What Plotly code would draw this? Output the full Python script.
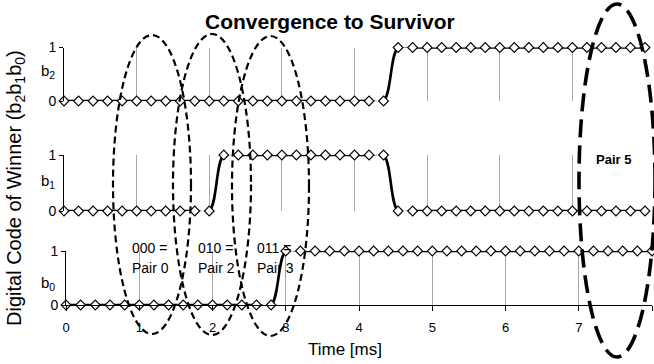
import plotly.graph_objects as go

W, H = 654, 364

# ---------------- data ----------------
time_ms = [0.0, 0.2, 0.4, 0.6, 0.8, 1.0, 1.2, 1.4, 1.6, 1.8,
           2.0, 2.2, 2.4, 2.6, 2.8, 3.0, 3.2, 3.4, 3.6, 3.8,
           4.0, 4.2, 4.4, 4.6, 4.8, 5.0, 5.2, 5.4, 5.6, 5.8,
           6.0, 6.2, 6.4, 6.6, 6.8, 7.0, 7.2, 7.4, 7.6, 7.8, 8.0]
b2 = [0]*23 + [1]*18
b1 = [0]*11 + [1]*12 + [0]*18
b0 = [0]*15 + [1]*26
bit_labels = ["b<sub>2</sub>", "b<sub>1</sub>", "b<sub>0</sub>"]
x_ticks = [0, 1, 2, 3, 4, 5, 6, 7, 8]
y_ticks = [0, 1]
pair_notes = [("000 =", "Pair 0"), ("010 =", "Pair 2"), ("011 =", "Pair 3")]
title_text = "Convergence to Survivor"
y_title = "Digital Code of Winner (b<sub>2</sub>b<sub>1</sub>b<sub>0</sub>)"
x_title = "Time [ms]"

FONT = "Arial, Liberation Sans, sans-serif"


def px(x):
    return x / W


def py(y):
    return 1 - y / H


# panel geometry in pixels (top, bottom of the 0..1 band) and x extents
panels = [
    dict(y1=47.5, y0=101, xl=64, xr=645),
    dict(y1=155, y0=211, xl=64, xr=645),
    dict(y1=251, y0=305, xl=66, xr=652),
]
series = [b2, b1, b0]

fig = go.Figure()
layout = dict(
    width=W, height=H, margin=dict(l=0, r=0, t=0, b=0, autoexpand=False),
    paper_bgcolor="white", plot_bgcolor="white", showlegend=False,
    font=dict(family=FONT, color="black"),
)

for i, (p, s) in enumerate(zip(panels, series)):
    n = "" if i == 0 else str(i + 1)
    fig.add_trace(go.Scatter(
        x=time_ms, y=s, xaxis="x" + n, yaxis="y" + n,
        mode="lines+markers", line=dict(color="black", width=2.6, shape="spline", smoothing=1.0),
        marker=dict(symbol="diamond", size=7.5, color="white", line=dict(color="black", width=1.1)),
        cliponaxis=False, hoverinfo="skip",
    ))
    bottom = (i == 2)
    layout["xaxis" + n] = dict(
        domain=[px(p["xl"]), px(p["xr"])], range=[0, 8], anchor="y" + n,
        tickvals=x_ticks, showgrid=True, gridcolor="#a6a6a6", gridwidth=1,
        zeroline=False, showline=bottom, linecolor="black", linewidth=1,
        ticks="outside" if bottom else "", ticklen=5, tickcolor="black",
        showticklabels=bottom, tickfont=dict(size=13, family=FONT, color="black"),
        ticklabelstandoff=5, automargin=False,
    )
    layout["yaxis" + n] = dict(
        domain=[py(p["y0"]), py(p["y1"])], range=[0, 1], anchor="x" + n,
        tickvals=y_ticks, showgrid=False, zeroline=False,
        showline=True, linecolor="black", linewidth=1,
        ticks="outside", ticklen=4, tickcolor="black",
        tickfont=dict(size=14, family=FONT, color="black"),
        automargin=False,
    )

fig.update_layout(**layout)


def note(text, x, y, size, xanchor="center", angle=0):
    return dict(text=text, x=px(x), y=py(y), xref="paper", yref="paper",
                xanchor=xanchor, yanchor="middle", textangle=angle, showarrow=False,
                font=dict(size=size, family=FONT, color="black"))


ann = []
ann.append(note("<b>" + title_text + "</b>", 330, 21, 21))
ann.append(note(x_title, 345, 349, 17))
ann.append(note(y_title, 15, 188, 20, angle=-90))
bit_y = [72, 181, 283]
for lab, yy in zip(bit_labels, bit_y):
    ann.append(note(lab, 48, yy, 15))
note_x = [130, 196, 255]
for (l1, l2), xx in zip(pair_notes, note_x):
    ann.append(note(l1, xx, 248, 14, xanchor="left"))
    ann.append(note(l2, xx, 268, 14, xanchor="left"))
ann.append(note("<b>Pair 5</b>", 594, 159, 13, xanchor="left"))
fig.update_layout(annotations=ann)

# dashed ellipses (pixel boxes: left, top, right, bottom)
small = [(113, 35, 191, 334), (173, 34, 251, 335), (232, 36, 309, 336)]
shapes = []
for (l, t, r, b) in small:
    shapes.append(dict(type="circle", xref="paper", yref="paper",
                       x0=px(l), x1=px(r), y0=py(b), y1=py(t),
                       line=dict(color="black", width=2.2, dash="7px,4px")))
shapes.append(dict(type="circle", xref="paper", yref="paper",
                   x0=px(579), x1=px(655), y0=py(357), y1=py(4),
                   line=dict(color="black", width=3.6, dash="18px,8px")))
fig.update_layout(shapes=shapes)

fig.write_html("out.html", config={"displayModeBar": False},
               post_script="document.body.style.margin='0';document.body.style.overflow='hidden';")
